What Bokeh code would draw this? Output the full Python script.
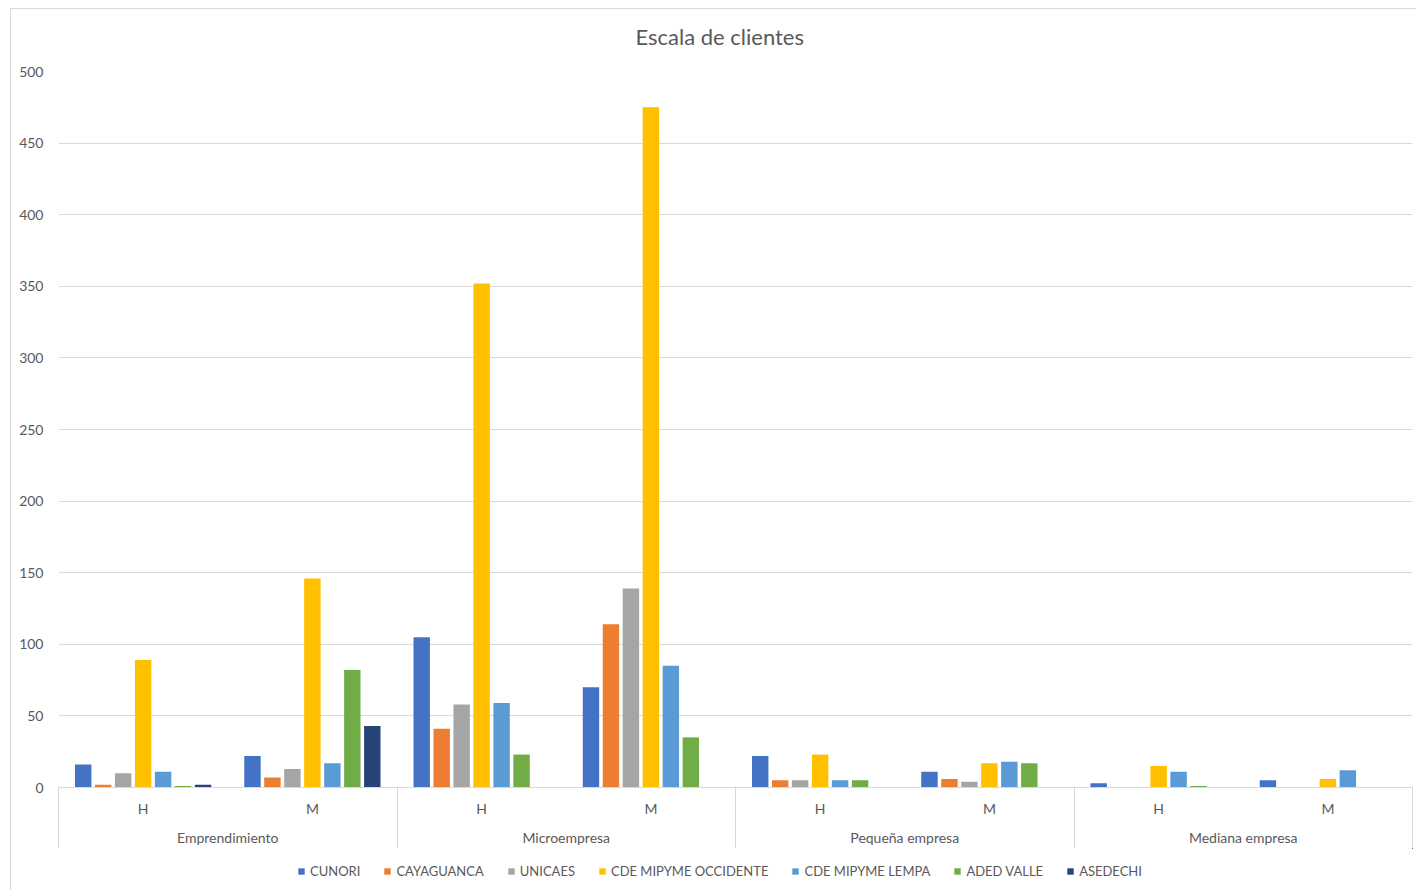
from bokeh.plotting import figure
from bokeh.layouts import column
from bokeh.models import Range1d, FixedTicker, LinearAxis, Legend, LegendItem, Title
from bokeh.embed import file_html
from bokeh.resources import INLINE

# ---------------- data ----------------
title_text = "Escala de clientes"
groups = ["Emprendimiento", "Microempresa", "Pequeña empresa", "Mediana empresa"]
subcats = ["H", "M"]
series_names = ["CUNORI", "CAYAGUANCA", "UNICAES", "CDE MIPYME OCCIDENTE",
                "CDE MIPYME LEMPA", "ADED VALLE", "ASEDECHI"]
# order: Emp H, Emp M, Micro H, Micro M, Peq H, Peq M, Med H, Med M
cunori     = [16, 22, 105, 70, 22, 11, 3, 5]
cayaguanca = [2, 7, 41, 114, 5, 6, 0, 0]
unicaes    = [10, 13, 58, 139, 5, 4, 0, 0]
cde_occ    = [89, 146, 352, 475, 23, 17, 15, 6]
cde_lempa  = [11, 17, 59, 85, 5, 18, 11, 12]
aded_valle = [1, 82, 23, 35, 5, 17, 1, 0]
asedechi   = [2, 43, 0, 0, 0, 0, 0, 0]
y_ticks = list(range(0, 501, 50))

series_values = [cunori, cayaguanca, unicaes, cde_occ, cde_lempa, aded_valle, asedechi]
colors = ["#4472C4", "#ED7D31", "#A5A5A5", "#FFC000", "#5B9BD5", "#70AD47", "#264478"]

TEXT = "#595959"
GRID = "#d9d9d9"
FONT = "Lato"

n_sub = len(subcats)
n_cat = len(groups) * n_sub
CAT_W = 2
x_centers = [CAT_W * i + 1 for i in range(n_cat)]
sub_labels = subcats * len(groups)
group_centers = [CAT_W * n_sub * g + CAT_W * n_sub // 2 for g in range(len(groups))]
separators = [CAT_W * n_sub * g for g in range(len(groups) + 1)]

p = figure(frame_width=1354, frame_height=716, title=None,
           x_range=Range1d(0, n_cat * CAT_W), y_range=Range1d(0, 500),
           x_axis_type=None, output_backend="svg", toolbar_location=None,
           min_border_left=47, min_border_right=5, min_border_top=62, min_border_bottom=61,
           outline_line_color=None)

def plain_axis(ax, size="14px"):
    ax.major_tick_line_color = None
    ax.minor_tick_line_color = None
    ax.major_tick_out = 0
    ax.major_tick_in = 0
    ax.minor_tick_out = 0
    ax.minor_tick_in = 0
    ax.major_label_text_font = FONT
    ax.major_label_text_font_size = size
    ax.major_label_text_color = TEXT

# spacer between plot frame and title (invisible minor ticks give it its height)
top_spacer = LinearAxis(ticker=FixedTicker(ticks=[], minor_ticks=separators))
plain_axis(top_spacer)
top_spacer.axis_line_color = None
top_spacer.minor_tick_out = 22
p.add_layout(top_spacer, "above")

p.add_layout(Title(text=title_text, align="left", offset=577, standoff=0,
                   text_font=FONT, text_font_size="22px", text_font_style="normal",
                   text_color=TEXT), "above")

# y axis
p.yaxis.ticker = FixedTicker(ticks=y_ticks)
plain_axis(p.yaxis[0])
p.yaxis.axis_line_color = None
p.yaxis.major_label_standoff = 15
p.ygrid.ticker = FixedTicker(ticks=y_ticks)
p.ygrid.grid_line_color = GRID

# bars
n_s = len(series_names)
stride = 0.236
bw = 0.194
for j, (name, vals, col) in enumerate(zip(series_names, series_values, colors)):
    xs = [c + (j - (n_s - 1) / 2) * stride for c in x_centers]
    p.vbar(x=xs, top=vals, width=bw, fill_color=col, line_color=None)

# category axis (H / M)
ax1 = LinearAxis(ticker=FixedTicker(ticks=x_centers),
                 major_label_overrides={c: s for c, s in zip(x_centers, sub_labels)})
plain_axis(ax1)
ax1.axis_line_color = GRID
ax1.major_label_standoff = 12
p.add_layout(ax1, "below")

# group axis
ax2 = LinearAxis(ticker=FixedTicker(ticks=group_centers),
                 major_label_overrides={c: g for c, g in zip(group_centers, groups)})
plain_axis(ax2)
ax2.axis_line_color = None
ax2.major_label_standoff = 9
p.add_layout(ax2, "below")

# group separators (ticks drawn back up toward the plot)
ax3 = LinearAxis(ticker=FixedTicker(ticks=[], minor_ticks=separators))
plain_axis(ax3)
ax3.axis_line_color = None
ax3.minor_tick_line_color = GRID
ax3.minor_tick_in = 62
ax3.minor_tick_out = 0
p.add_layout(ax3, "below")

# legend strip below the chart (its bars lie entirely outside its visible ranges;
# only the legend entries are shown)
lf = figure(width=1406, height=42, x_range=Range1d(-2, -1), y_range=Range1d(-2, -1),
            x_axis_type=None, y_axis_type=None, output_backend="svg",
            toolbar_location=None, min_border=0, outline_line_color=None)
items = []
for name, vals, col in zip(series_names, series_values, colors):
    r = lf.vbar(x=x_centers, top=vals, width=bw, fill_color=col, line_color=None)
    items.append(LegendItem(label=name, renderers=[r]))
legend = Legend(items=items, orientation="horizontal", location=(239, 11),
                padding=0, margin=0, spacing=23, glyph_width=8, glyph_height=8,
                label_standoff=5, label_height=15, label_text_font=FONT,
                label_text_font_size="13px", label_text_color=TEXT,
                border_line_color=None, background_fill_alpha=0)
lf.add_layout(legend, "center")

layout = column(p, lf, spacing=0, margin=(8, 0, 0, 10),
                styles={"border-left": "1px solid #d9d9d9", "border-top": "1px solid #d9d9d9"})

open("out.html", "w").write(file_html(layout, INLINE))
